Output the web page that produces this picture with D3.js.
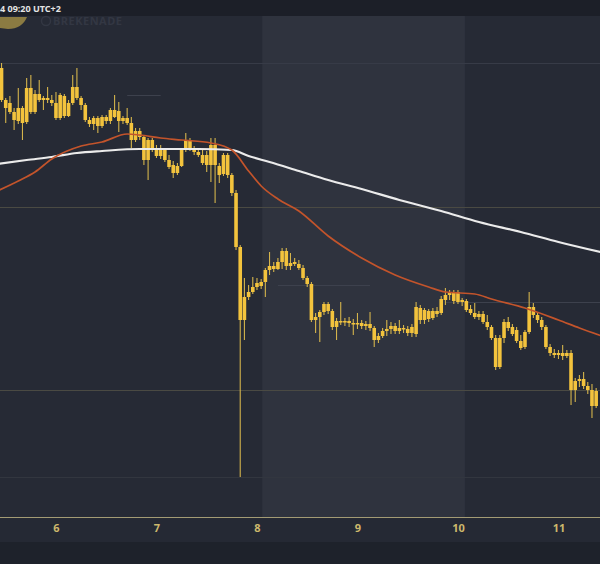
<!DOCTYPE html>
<html><head><meta charset="utf-8">
<script src="https://cdnjs.cloudflare.com/ajax/libs/d3/7.8.5/d3.min.js"></script>
<style>html,body{margin:0;padding:0;background:#1e222b;overflow:hidden}</style>
</head><body><svg id="c" width="600" height="564"></svg>
<script>
// ---------- data ----------
const firstCandle = "2024-09-05T11:00:00Z";   // hourly candles
const viewStart = "2024-09-05T10:38:00Z";
const viewEnd = "2024-09-11T09:55:00Z";
const weekendBand = ["2024-09-08T01:15:00Z", "2024-09-10T01:40:00Z"];
const dayTicks = ["2024-09-06", "2024-09-07", "2024-09-08", "2024-09-09", "2024-09-10", "2024-09-11"];
const headerText = "4 09:20 UTC+2";

const opens = [2932,2900,2897,2888,2879,2892,2878,2912,2888,2906,
 2900,2902,2900,2897,2882,2904,2884,2897,2913,2902,
 2895,2880,2876,2882,2874,2883,2879,2890,2889,2879,
 2882,2877,2860,2869,2863,2840,2860,2850,2844,2850,
 2840,2835,2827,2834,2850,2860,2851,2848,2845,2845,
 2835,2855,2834,2826,2845,2825,2807,2753,2680,2703,
 2708,2713,2714,2718,2730,2734,2731,2738,2749,2734,
 2738,2736,2732,2722,2716,2680,2683,2688,2696,2689,
 2673,2679,2678,2679,2677,2676,2677,2674,2676,2672,
 2660,2664,2669,2671,2674,2669,2672,2671,2667,2666,
 2692,2680,2689,2682,2689,2687,2700,2705,2699,2708,
 2698,2699,2691,2687,2683,2686,2678,2673,2662,2633,
 2662,2678,2673,2670,2659,2653,2668,2693,2685,2680,
 2673,2653,2647,2645,2647,2644,2647,2610,2619,2621,
 2614,2610,2594];
const highs = [2937,2902,2904,2892,2912,2894,2922,2925,2910,2920,
 2904,2913,2905,2908,2907,2906,2900,2925,2932,2904,
 2897,2883,2884,2884,2885,2885,2892,2905,2898,2884,
 2892,2883,2872,2872,2865,2862,2862,2855,2855,2852,
 2845,2839,2837,2852,2867,2862,2854,2852,2850,2849,
 2862,2862,2837,2847,2847,2827,2810,2755,2722,2715,
 2723,2722,2721,2732,2748,2738,2742,2752,2752,2747,
 2742,2740,2735,2724,2718,2687,2690,2698,2698,2691,
 2682,2698,2682,2683,2681,2687,2680,2679,2688,2674,
 2667,2672,2680,2678,2677,2680,2675,2674,2676,2698,
 2695,2692,2691,2692,2693,2704,2712,2710,2710,2710,
 2702,2701,2695,2697,2689,2689,2685,2675,2665,2665,
 2681,2683,2676,2673,2665,2670,2708,2697,2687,2683,
 2675,2656,2651,2650,2655,2650,2650,2622,2625,2628,
 2618,2616,2612];
const lows = [2898,2877,2886,2870,2876,2860,2876,2886,2886,2898,
 2890,2897,2894,2880,2880,2882,2883,2895,2900,2890,
 2878,2873,2870,2867,2872,2876,2876,2882,2868,2876,
 2875,2852,2858,2860,2835,2820,2848,2842,2841,2838,
 2831,2822,2825,2833,2848,2849,2845,2843,2835,2828,
 2818,2797,2817,2824,2822,2804,2750,2523,2660,2700,
 2706,2710,2711,2703,2725,2728,2730,2731,2730,2730,
 2734,2730,2720,2713,2678,2667,2658,2685,2686,2670,
 2660,2675,2674,2673,2665,2671,2671,2670,2669,2653,
 2657,2662,2664,2666,2666,2666,2667,2664,2663,2663,
 2676,2676,2678,2680,2683,2685,2695,2700,2696,2696,
 2694,2688,2685,2681,2680,2676,2670,2660,2630,2631,
 2657,2669,2664,2657,2650,2651,2666,2682,2677,2670,
 2651,2644,2642,2641,2640,2642,2595,2598,2613,2611,
 2606,2582,2592];
const closes = [2900,2892,2888,2880,2892,2877,2912,2888,2906,2900,
 2902,2900,2897,2882,2905,2884,2897,2913,2902,2895,
 2880,2876,2882,2874,2883,2879,2890,2883,2879,2882,
 2877,2860,2869,2863,2840,2860,2850,2844,2851,2840,
 2833,2827,2834,2850,2860,2851,2848,2845,2837,2835,
 2855,2835,2825,2845,2825,2807,2753,2680,2703,2708,
 2713,2717,2718,2730,2734,2731,2738,2749,2734,2737,
 2736,2732,2722,2716,2680,2683,2688,2696,2689,2673,
 2679,2678,2679,2677,2676,2677,2674,2676,2672,2660,
 2664,2669,2671,2674,2669,2672,2671,2667,2673,2693,
 2680,2690,2681,2689,2686,2701,2705,2707,2708,2698,
 2700,2690,2687,2683,2686,2678,2673,2662,2633,2662,
 2678,2672,2666,2659,2652,2668,2693,2685,2680,2673,
 2653,2647,2645,2647,2644,2647,2610,2619,2621,2614,
 2610,2594,2609];

// moving averages, sampled at candle index (hours from first candle)
const maSlowIdx  = [-1,6,12,18,24,33,47,55,59,64,71,78,86,95,105,114,124,133,144];
const maSlowVals = [2836,2840,2843,2847,2849,2851,2851,2850,2844,2838,2829,2820,2811,2800,2789,2778,2768,2758,2747];
const maFastIdx  = [-1,4,8,12,19,24,30,33,38,43,50,55,59,62,66,71,78,86,94,102,106,113,117,125,133,138,144];
const maFastVals = [2809,2819,2828,2841,2854,2858,2866,2865,2862,2860,2857,2850,2829,2814,2801,2789,2764,2742,2725,2713,2708,2706,2701,2692,2680,2672,2663];

// horizontal price levels
const levelsFull = [2937, 2793, 2610, 2523];
const levelsShort = [[2905, 30, 38], [2715, 66, 88], [2698, 106, 144]];

// ---------- chart ----------
const W = 600, H = 564;
const plotTop = 16, plotBottom = 517;
const svg = d3.select("#c");
const hour = 3600e3;
const t0 = new Date(firstCandle).getTime();
const candles = opens.map((o, i) => ({t: new Date(t0 + i * hour), o, h: highs[i], l: lows[i], c: closes[i]}));

const x = d3.scaleUtc().domain([new Date(viewStart), new Date(viewEnd)]).range([0, W]);
const y = d3.scaleLinear().domain([2483, 2982]).range([517, 18]);
const xi = i => x(new Date(t0 + i * hour));

// backgrounds
svg.append("rect").attr("x", 0).attr("y", 0).attr("width", W).attr("height", H).attr("fill", "#1e222b");
svg.append("rect").attr("x", 0).attr("y", 0).attr("width", W).attr("height", plotTop).attr("fill", "#1c1f28");
svg.append("rect").attr("x", 0).attr("y", plotTop).attr("width", W).attr("height", plotBottom - plotTop).attr("fill", "#262a35");
svg.append("rect").attr("x", x(new Date(weekendBand[0]))).attr("y", plotTop)
  .attr("width", x(new Date(weekendBand[1])) - x(new Date(weekendBand[0])))
  .attr("height", plotBottom - plotTop).attr("fill", "#2f333e");
svg.append("rect").attr("x", 0).attr("y", plotBottom).attr("width", W).attr("height", 25).attr("fill", "#252934");

// levels
const lv = svg.append("g");
levelsFull.forEach((p, k) => {
  lv.append("line").attr("x1", 0).attr("x2", W).attr("y1", Math.round(y(p)) + 0.5).attr("y2", Math.round(y(p)) + 0.5)
    .attr("stroke", k === 0 ? "#373b47" : k === 3 ? "#32363f" : "#4a4a43").attr("stroke-width", 1);
});
levelsShort.forEach(([p, a, b]) => {
  lv.append("line").attr("x1", xi(a)).attr("x2", xi(b)).attr("y1", Math.round(y(p)) + 0.5).attr("y2", Math.round(y(p)) + 0.5)
    .attr("stroke", "#3d414d").attr("stroke-width", 1);
});

// watermark
svg.append("path").attr("d", "M0,17 L27,17 Q22,29 8,29 L0,28 Z").attr("fill", "#9e8a44").attr("opacity", 0.85);
svg.append("circle").attr("cx", 46).attr("cy", 21).attr("r", 4.5).attr("fill", "none").attr("stroke", "#333743").attr("stroke-width", 1.5);
svg.append("text").attr("x", 53).attr("y", 25).attr("fill", "#333743").attr("font-family", "Noto Sans, sans-serif")
  .attr("font-size", 11).attr("font-weight", "bold").attr("letter-spacing", 0.5).text("BREKENADE");

// candles
const cg = svg.append("g");
cg.selectAll("line.w").data(candles).join("line").attr("class", "w")
  .attr("x1", d => x(d.t)).attr("x2", d => x(d.t))
  .attr("y1", d => y(d.h)).attr("y2", d => y(d.l))
  .attr("stroke", "#d4b44c").attr("stroke-width", 1.1);
cg.selectAll("rect.b").data(candles).join("rect").attr("class", "b")
  .attr("x", d => x(d.t) - 1.8)
  .attr("width", 3.6)
  .attr("y", d => y(Math.max(d.o, d.c)))
  .attr("height", d => Math.max(1.5, Math.abs(y(d.o) - y(d.c))))
  .attr("fill", "#f3c33d");

// moving averages
const line = d3.line().x(d => xi(d[0])).y(d => y(d[1])).curve(d3.curveMonotoneX);
svg.append("path").datum(maSlowIdx.map((v, i) => [v, maSlowVals[i]])).attr("d", line)
  .attr("fill", "none").attr("stroke", "#ebebeb").attr("stroke-width", 2.2);
svg.append("path").datum(maFastIdx.map((v, i) => [v, maFastVals[i]])).attr("d", line)
  .attr("fill", "none").attr("stroke", "#c3542b").attr("stroke-width", 1.7);

// x axis
const ax = svg.append("g").attr("transform", `translate(0,${plotBottom})`)
  .call(d3.axisBottom(x).tickValues(dayTicks.map(s => new Date(s + "T00:00:00Z"))).tickFormat(d3.utcFormat("%-d")).tickSize(0).tickPadding(7));
ax.select(".domain").attr("stroke", "#a39b74").attr("stroke-width", 1.2).attr("d", `M0,0.5H${W}`);
ax.selectAll("text").attr("fill", "#cdb86c").attr("font-family", "Noto Sans, sans-serif").attr("font-size", 11).attr("font-weight", "bold");

// header
svg.append("text").attr("x", 0).attr("y", 12).attr("fill", "#e4e4e4").attr("font-family", "Noto Sans, sans-serif")
  .attr("font-size", 9).attr("font-weight", "bold").text(headerText);
</script></body></html>
